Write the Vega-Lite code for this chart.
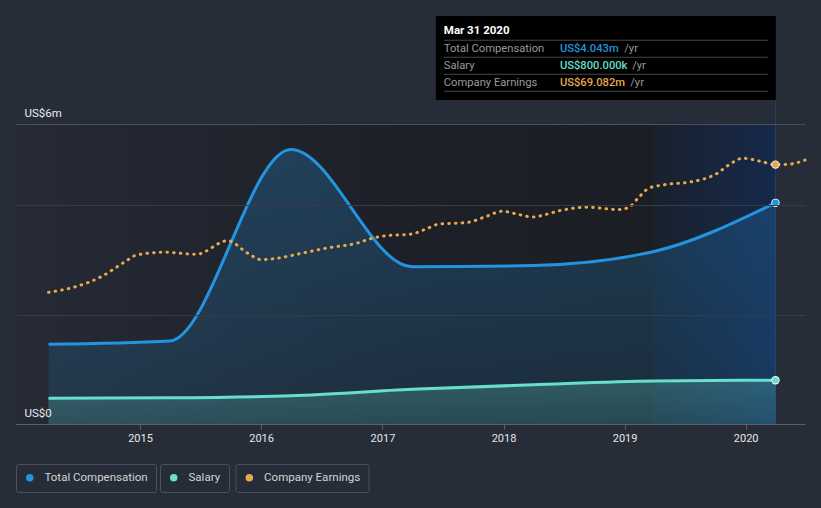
{
  "$schema": "https://vega.github.io/schema/vega-lite/v6.json",
  "width": 789,
  "height": 300,
  "autosize": {"type": "none"},
  "padding": {"left": 16, "top": 124, "right": 16, "bottom": 84},
  "background": "#262c38",
  "config": {
    "view": {"stroke": null},
    "font": "Roboto",
    "legend": {
      "orient": "none",
      "direction": "horizontal",
      "symbolType": "circle",
      "symbolSize": 56,
      "symbolStrokeWidth": 0,
      "labelColor": "#d4d4d4",
      "labelFont": "Roboto",
      "labelFontSize": 11.5,
      "labelOffset": 9,
      "padding": 8,
      "strokeColor": "#4b515c",
      "cornerRadius": 2
    }
  },
  "datasets": {
    "comp": [
      {"date": "2014-03-31", "tc": 1.457, "sal": 0.47},
      {"date": "2015-03-31", "tc": 1.517, "sal": 0.478},
      {"date": "2016-03-31", "tc": 5.02, "sal": 0.515},
      {"date": "2017-03-31", "tc": 2.876, "sal": 0.634},
      {"date": "2018-03-31", "tc": 2.898, "sal": 0.716},
      {"date": "2019-03-31", "tc": 3.154, "sal": 0.786},
      {"date": "2020-03-31", "tc": 4.043, "sal": 0.8}
    ],
    "earn": [
      {"date": "2014-03-31", "e": 35.08},
      {"date": "2014-06-18", "e": 36.49},
      {"date": "2014-09-06", "e": 39.24},
      {"date": "2014-11-17", "e": 43.23},
      {"date": "2014-12-22", "e": 45.02},
      {"date": "2015-03-16", "e": 45.74},
      {"date": "2015-06-20", "e": 45.2},
      {"date": "2015-09-22", "e": 48.8},
      {"date": "2015-11-22", "e": 45.47},
      {"date": "2016-01-01", "e": 43.8},
      {"date": "2016-02-09", "e": 44.03},
      {"date": "2016-05-02", "e": 45.47},
      {"date": "2016-07-24", "e": 46.96},
      {"date": "2016-10-15", "e": 48.14},
      {"date": "2016-11-24", "e": 49.28},
      {"date": "2017-01-05", "e": 50.08},
      {"date": "2017-03-30", "e": 50.61},
      {"date": "2017-05-09", "e": 51.81},
      {"date": "2017-06-18", "e": 53.2},
      {"date": "2017-09-15", "e": 53.7},
      {"date": "2017-11-08", "e": 55.22},
      {"date": "2017-12-28", "e": 56.66},
      {"date": "2018-02-17", "e": 55.75},
      {"date": "2018-03-30", "e": 55.14},
      {"date": "2018-05-11", "e": 55.86},
      {"date": "2018-06-20", "e": 56.82},
      {"date": "2018-09-11", "e": 57.73},
      {"date": "2018-12-15", "e": 57.1},
      {"date": "2019-01-14", "e": 57.73},
      {"date": "2019-02-13", "e": 60.39},
      {"date": "2019-03-15", "e": 62.79},
      {"date": "2019-04-27", "e": 63.67},
      {"date": "2019-07-18", "e": 64.46},
      {"date": "2019-08-28", "e": 65.26},
      {"date": "2019-10-06", "e": 66.68},
      {"date": "2019-11-10", "e": 68.91},
      {"date": "2019-12-24", "e": 70.78},
      {"date": "2020-02-14", "e": 69.98},
      {"date": "2020-03-31", "e": 69.082},
      {"date": "2020-05-10", "e": 69.18},
      {"date": "2020-06-28", "e": 70.3}
    ]
  },
  "layer": [
    {
      "data": {"name": "comp"},
      "resolve": {"scale": {"color": "independent"}},
      "layer": [
        {
          "data": {"values": [{"period": "history"}]},
          "mark": {
            "type": "rect",
            "color": {
              "gradient": "linear", "x1": 0, "y1": 0, "x2": 1, "y2": 0,
              "stops": [
                {"offset": 0, "color": "#252a35"},
                {"offset": 0.6, "color": "#1d2028"},
                {"offset": 1, "color": "#1b1e24"}
              ]
            }
          },
          "encoding": {
            "x": {"datum": {"year": 2013, "month": 12, "date": 23}, "type": "temporal", "title": null},
            "x2": {"datum": {"year": 2019, "month": 3, "date": 31}}
          }
        },
        {
          "data": {"values": [{"period": "latest"}]},
          "mark": {
            "type": "rect",
            "color": {
              "gradient": "linear", "x1": 0, "y1": 0, "x2": 1, "y2": 0,
              "stops": [
                {"offset": 0, "color": "#19212e"},
                {"offset": 1, "color": "#16294a"}
              ]
            }
          },
          "encoding": {
            "x": {"datum": {"year": 2019, "month": 3, "date": 31}, "type": "temporal", "title": null},
            "x2": {"datum": {"year": 2020, "month": 3, "date": 31}}
          }
        },
        {
          "data": {"values": [{"marker": "crosshair"}]},
          "mark": {"type": "rule", "color": "#22406b", "strokeWidth": 1},
          "encoding": {
            "x": {"datum": {"year": 2020, "month": 3, "date": 31}, "type": "temporal", "title": null},
            "y": {"datum": 0, "type": "quantitative", "title": null},
            "y2": {"datum": 5.923}
          }
        },
        {
          "mark": {
            "type": "area",
            "interpolate": "monotone",
            "color": {
              "gradient": "linear", "x1": 0, "y1": 0, "x2": 0, "y2": 1,
              "stops": [
                {"offset": 0, "color": "rgba(35,148,223,0.26)"},
                {"offset": 1, "color": "rgba(35,148,223,0.12)"}
              ]
            }
          },
          "encoding": {
            "x": {
              "field": "date",
              "type": "temporal",
              "title": null,
              "scale": {"domain": [{"year": 2013, "month": 12, "date": 23}, {"year": 2020, "month": 6, "date": 28}], "nice": false},
              "axis": {
                "values": [
                  {"year": 2015, "month": 1, "date": 1},
                  {"year": 2016, "month": 1, "date": 1},
                  {"year": 2017, "month": 1, "date": 1},
                  {"year": 2018, "month": 1, "date": 1},
                  {"year": 2019, "month": 1, "date": 1},
                  {"year": 2020, "month": 1, "date": 1}
                ],
                "format": "%Y",
                "labelColor": "#e6e6e6",
                "labelFont": "Roboto",
                "labelFontSize": 11,
                "labelPadding": 3,
                "labelFlush": false,
                "labelOverlap": false,
                "tickSize": 5,
                "tickColor": "#5b616b",
                "domainColor": "#5b616b",
                "grid": false,
                "title": null,
                "zindex": 1
              }
            },
            "y": {
              "field": "tc",
              "type": "quantitative",
              "title": null,
              "scale": {"domain": [0, 5.484], "nice": false, "zero": true},
              "axis": {
                "values": [0, 2, 4, 5.484],
                "labelExpr": "datum.value == 0 ? 'US$0' : (datum.value > 5 ? 'US$6m' : '')",
                "domain": false,
                "ticks": false,
                "tickSize": 0,
                "labelAlign": "left",
                "labelBaseline": "alphabetic",
                "labelPadding": -8,
                "labelOffset": -8,
                "labelColor": "#ececec",
                "labelFont": "Roboto",
                "labelFontSize": 11.5,
                "labelOverlap": false,
                "grid": true,
                "gridColor": {"condition": {"test": "datum.value > 5", "value": "#4a505a"}, "value": "#363c47"},
                "gridWidth": 1,
                "title": null,
                "zindex": 1
              }
            }
          }
        },
        {
          "mark": {
            "type": "area",
            "interpolate": "monotone",
            "color": {
              "gradient": "linear", "x1": 0, "y1": 0, "x2": 0, "y2": 1,
              "stops": [
                {"offset": 0, "color": "rgba(108,229,208,0.24)"},
                {"offset": 1, "color": "rgba(108,229,208,0.15)"}
              ]
            }
          },
          "encoding": {
            "x": {"field": "date", "type": "temporal", "title": null},
            "y": {"field": "sal", "type": "quantitative", "title": null}
          }
        },
        {
          "mark": {"type": "line", "interpolate": "monotone", "color": "#2394df", "strokeWidth": 3},
          "encoding": {
            "x": {"field": "date", "type": "temporal", "title": null},
            "y": {"field": "tc", "type": "quantitative", "title": null}
          }
        },
        {
          "mark": {"type": "line", "interpolate": "monotone", "color": "#67dfca", "strokeWidth": 3},
          "encoding": {
            "x": {"field": "date", "type": "temporal", "title": null},
            "y": {"field": "sal", "type": "quantitative", "title": null}
          }
        },
        {
          "data": {"values": [{"date": "2020-03-31", "tc": 4.043}]},
          "mark": {"type": "point", "filled": true, "opacity": 1, "color": "#ffffff", "size": 70},
          "encoding": {
            "x": {"field": "date", "type": "temporal", "title": null},
            "y": {"field": "tc", "type": "quantitative", "title": null}
          }
        },
        {
          "data": {"values": [{"date": "2020-03-31", "tc": 4.043}]},
          "mark": {"type": "point", "filled": true, "opacity": 1, "size": 44},
          "encoding": {
            "x": {"field": "date", "type": "temporal", "title": null},
            "y": {"field": "tc", "type": "quantitative", "title": null},
            "color": {
              "datum": "Total Compensation",
              "type": "nominal",
              "scale": {"range": ["#2394df"]},
              "legend": {"title": null, "orient": "none", "legendX": 0, "legendY": 340}
            }
          }
        },
        {
          "data": {"values": [{"date": "2020-03-31", "sal": 0.8}]},
          "mark": {"type": "point", "filled": true, "opacity": 1, "color": "#ffffff", "size": 70},
          "encoding": {
            "x": {"field": "date", "type": "temporal", "title": null},
            "y": {"field": "sal", "type": "quantitative", "title": null}
          }
        },
        {
          "data": {"values": [{"date": "2020-03-31", "sal": 0.8}]},
          "mark": {"type": "point", "filled": true, "opacity": 1, "size": 44},
          "encoding": {
            "x": {"field": "date", "type": "temporal", "title": null},
            "y": {"field": "sal", "type": "quantitative", "title": null},
            "color": {
              "datum": "Salary",
              "type": "nominal",
              "scale": {"range": ["#67dfca"]},
              "legend": {"title": null, "orient": "none", "legendX": 144, "legendY": 340}
            }
          }
        },
        {
          "data": {"values": [{"box": "tooltip"}]},
          "mark": {"type": "rect", "color": "#000000"},
          "encoding": {
            "x": {"datum": {"year": 2017, "month": 6, "date": 11}, "type": "temporal", "title": null},
            "x2": {"datum": {"year": 2020, "month": 4, "date": 1}},
            "y": {"datum": 5.923, "type": "quantitative", "title": null},
            "y2": {"datum": 7.459}
          }
        },
        {
          "data": {"values": [{"sep": 7.015}, {"sep": 6.704}, {"sep": 6.393}, {"sep": 6.082}]},
          "mark": {"type": "rule", "color": "#464646", "strokeWidth": 1},
          "encoding": {
            "x": {"datum": {"year": 2017, "month": 7, "date": 5}, "type": "temporal", "title": null},
            "x2": {"datum": {"year": 2020, "month": 3, "date": 8}},
            "y": {"field": "sep", "type": "quantitative", "title": null}
          }
        },
        {
          "data": {"values": [{"t": "Mar 31 2020"}]},
          "mark": {"type": "text", "align": "left", "baseline": "alphabetic", "font": "Roboto", "fontSize": 11.5, "fontWeight": "bold", "color": "#ffffff"},
          "encoding": {
            "x": {"datum": {"year": 2017, "month": 7, "date": 5}, "type": "temporal", "title": null},
            "y": {"datum": 7.124, "type": "quantitative", "title": null},
            "text": {"field": "t"}
          }
        },
        {
          "data": {"values": [
            {"label": "Total Compensation", "yv": 6.806},
            {"label": "Salary", "yv": 6.495},
            {"label": "Company Earnings", "yv": 6.185}
          ]},
          "mark": {"type": "text", "align": "left", "baseline": "alphabetic", "font": "Roboto", "fontSize": 11.2, "color": "#9a9a9a"},
          "encoding": {
            "x": {"datum": {"year": 2017, "month": 7, "date": 5}, "type": "temporal", "title": null},
            "y": {"field": "yv", "type": "quantitative", "title": null},
            "text": {"field": "label"}
          }
        },
        {
          "data": {"values": [{"value": "US$4.043m"}]},
          "mark": {"type": "text", "align": "left", "baseline": "alphabetic", "font": "Roboto", "fontSize": 11.2, "fontWeight": 500, "color": "#2394df"},
          "encoding": {
            "x": {"datum": {"year": 2018, "month": 6, "date": 20}, "type": "temporal", "title": null},
            "y": {"datum": 6.806, "type": "quantitative", "title": null},
            "text": {"field": "value"}
          }
        },
        {
          "data": {"values": [{"value": "US$800.000k"}]},
          "mark": {"type": "text", "align": "left", "baseline": "alphabetic", "font": "Roboto", "fontSize": 11.2, "fontWeight": 500, "color": "#67dfca"},
          "encoding": {
            "x": {"datum": {"year": 2018, "month": 6, "date": 20}, "type": "temporal", "title": null},
            "y": {"datum": 6.495, "type": "quantitative", "title": null},
            "text": {"field": "value"}
          }
        },
        {
          "data": {"values": [{"value": "US$69.082m"}]},
          "mark": {"type": "text", "align": "left", "baseline": "alphabetic", "font": "Roboto", "fontSize": 11.2, "fontWeight": 500, "color": "#e9a84e"},
          "encoding": {
            "x": {"datum": {"year": 2018, "month": 6, "date": 20}, "type": "temporal", "title": null},
            "y": {"datum": 6.185, "type": "quantitative", "title": null},
            "text": {"field": "value"}
          }
        },
        {
          "data": {"values": [{"u": "/yr"}]},
          "mark": {"type": "text", "align": "left", "baseline": "alphabetic", "font": "Roboto", "fontSize": 11.2, "color": "#9a9a9a"},
          "encoding": {
            "x": {"datum": {"year": 2018, "month": 12, "date": 31}, "type": "temporal", "title": null},
            "y": {"datum": 6.806, "type": "quantitative", "title": null},
            "text": {"field": "u"}
          }
        },
        {
          "data": {"values": [{"u": "/yr"}]},
          "mark": {"type": "text", "align": "left", "baseline": "alphabetic", "font": "Roboto", "fontSize": 11.2, "color": "#9a9a9a"},
          "encoding": {
            "x": {"datum": {"year": 2019, "month": 1, "date": 24}, "type": "temporal", "title": null},
            "y": {"datum": 6.495, "type": "quantitative", "title": null},
            "text": {"field": "u"}
          }
        },
        {
          "data": {"values": [{"u": "/yr"}]},
          "mark": {"type": "text", "align": "left", "baseline": "alphabetic", "font": "Roboto", "fontSize": 11.2, "color": "#9a9a9a"},
          "encoding": {
            "x": {"datum": {"year": 2019, "month": 1, "date": 18}, "type": "temporal", "title": null},
            "y": {"datum": 6.185, "type": "quantitative", "title": null},
            "text": {"field": "u"}
          }
        }
      ]
    },
    {
      "data": {"name": "earn"},
      "layer": [
        {
          "mark": {"type": "line", "interpolate": "monotone", "color": "#e9a84e", "strokeWidth": 3, "strokeCap": "round", "strokeDash": [0.6, 6.1]},
          "encoding": {
            "x": {"field": "date", "type": "temporal", "title": null, "scale": {"domain": [{"year": 2013, "month": 12, "date": 23}, {"year": 2020, "month": 6, "date": 28}], "nice": false}},
            "y": {"field": "e", "type": "quantitative", "axis": null, "scale": {"domain": [0, 79.9], "nice": false}}
          }
        },
        {
          "data": {"values": [{"date": "2020-03-31", "e": 69.082}]},
          "mark": {"type": "point", "filled": true, "opacity": 1, "color": "#ffffff", "size": 70},
          "encoding": {
            "x": {"field": "date", "type": "temporal", "title": null},
            "y": {"field": "e", "type": "quantitative", "axis": null}
          }
        },
        {
          "data": {"values": [{"date": "2020-03-31", "e": 69.082}]},
          "mark": {"type": "point", "filled": true, "opacity": 1, "size": 44},
          "encoding": {
            "x": {"field": "date", "type": "temporal", "title": null},
            "y": {"field": "e", "type": "quantitative", "axis": null},
            "color": {
              "datum": "Company Earnings",
              "type": "nominal",
              "scale": {"range": ["#e9a84e"]},
              "legend": {"title": null, "orient": "none", "legendX": 219.6, "legendY": 340}
            }
          }
        }
      ]
    }
  ],
  "resolve": {"scale": {"y": "independent", "color": "independent"}}
}
